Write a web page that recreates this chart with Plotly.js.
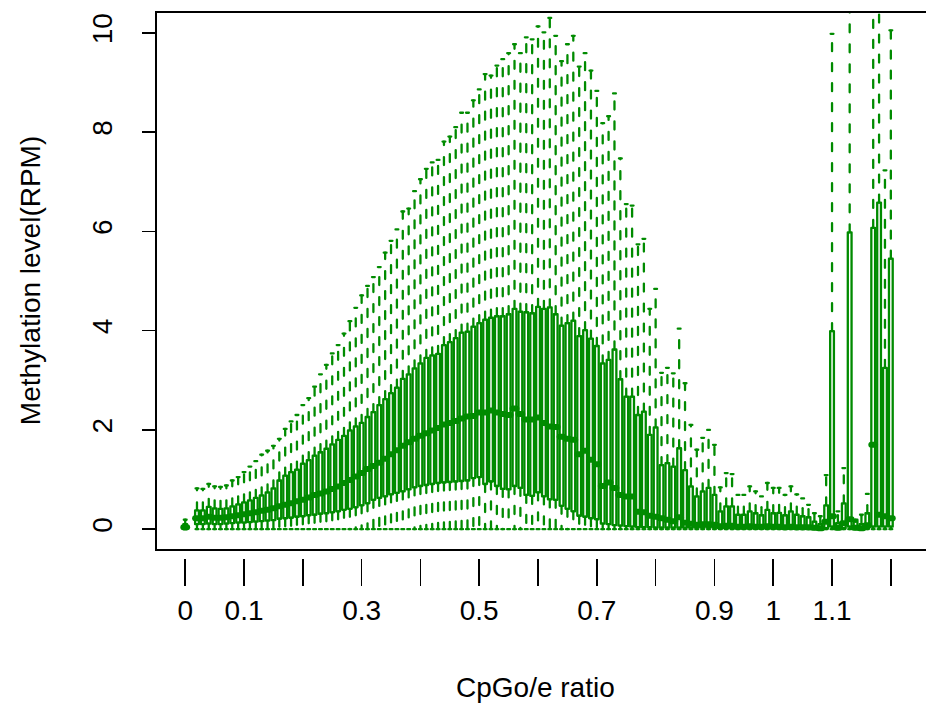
<!DOCTYPE html>
<html><head><meta charset="utf-8">
<script src="https://cdn.plot.ly/plotly-3.0.1.min.js"></script>
<style>
html,body{margin:0;padding:0;background:#fff;overflow:hidden;width:926px;height:705px}
#chart{width:940px;height:705px}
</style></head><body><div id="chart"></div>
<script>
// CpG o/e ratio groups (box positions)
const ratio = [0.00,
  0.02,0.03,0.04,0.05,0.06,0.07,0.08,0.09,0.10,
  0.11,0.12,0.13,0.14,0.15,0.16,0.17,0.18,0.19,0.20,
  0.21,0.22,0.23,0.24,0.25,0.26,0.27,0.28,0.29,0.30,
  0.31,0.32,0.33,0.34,0.35,0.36,0.37,0.38,0.39,0.40,
  0.41,0.42,0.43,0.44,0.45,0.46,0.47,0.48,0.49,0.50,
  0.51,0.52,0.53,0.54,0.55,0.56,0.57,0.58,0.59,0.60,
  0.61,0.62,0.63,0.64,0.65,0.66,0.67,0.68,0.69,0.70,
  0.71,0.72,0.73,0.74,0.75,0.76,0.77,0.78,0.79,0.80,
  0.81,0.82,0.83,0.84,0.85,0.86,0.87,0.88,0.89,0.90,
  0.91,0.92,0.93,0.94,0.95,0.96,0.97,0.98,0.99,1.00,
  1.01,1.02,1.03,1.04,1.05,1.06,1.07,1.08,1.09,1.10,
  1.11,1.12,1.13,1.14,1.15,1.16,1.17,1.18,1.19,1.20];

// upper whisker ends
const upperWhisker = [0.19,
  0.82,0.81,0.91,0.86,0.85,0.88,0.98,1.05,1.15,
  1.26,1.37,1.50,1.58,1.68,1.82,2.02,2.17,2.30,2.50,
  2.64,2.87,3.12,3.31,3.54,3.71,3.94,4.19,4.46,4.71,
  4.90,5.08,5.28,5.57,5.81,6.04,6.40,6.46,6.81,7.05,
  7.26,7.39,7.44,7.81,7.91,8.10,8.39,8.39,8.64,8.86,
  9.17,9.14,9.34,9.47,9.59,9.77,9.59,9.91,9.87,10.13,
  10.01,10.30,9.94,9.43,9.77,9.94,9.32,9.59,9.24,8.83,
  8.18,8.32,8.78,7.47,6.55,6.52,5.74,5.85,4.44,4.84,
  3.15,3.25,3.14,4.04,2.94,2.10,1.60,1.84,2.00,1.70,
  0.84,1.13,1.11,0.69,0.69,0.86,0.76,0.66,0.93,0.83,
  0.83,0.69,0.86,0.70,0.62,0.49,0.32,0.26,1.09,9.98,
  0.36,1.23,11.5,0.15,0.29,0.71,11.0,10.9,7.23,10.05];

// third quartile
const q3 = [0.10,
  0.38,0.38,0.45,0.42,0.41,0.42,0.46,0.50,0.54,
  0.58,0.63,0.68,0.74,0.82,0.98,1.08,1.15,1.20,1.32,
  1.39,1.48,1.55,1.62,1.71,1.80,1.88,1.99,2.07,2.14,
  2.26,2.36,2.50,2.62,2.74,2.85,3.03,3.12,3.24,3.34,
  3.45,3.50,3.53,3.71,3.77,3.85,3.96,3.98,4.08,4.15,
  4.22,4.26,4.29,4.29,4.33,4.44,4.38,4.37,4.35,4.48,
  4.44,4.47,4.33,4.10,4.15,4.20,3.89,4.01,3.84,3.69,
  3.34,3.41,3.62,3.02,2.67,2.67,2.30,2.37,1.90,2.05,
  1.29,1.33,1.26,1.63,1.19,0.86,0.66,0.76,0.83,0.69,
  0.36,0.46,0.46,0.29,0.29,0.36,0.32,0.28,0.39,0.32,
  0.33,0.28,0.36,0.29,0.26,0.24,0.15,0.10,0.48,3.99,
  0.12,0.52,5.98,0.19,0.10,0.32,6.07,6.58,3.25,5.45];

// medians
const median = [0.04,
  0.22,0.22,0.25,0.23,0.23,0.24,0.26,0.28,0.30,
  0.32,0.34,0.37,0.39,0.42,0.46,0.49,0.52,0.56,0.59,
  0.64,0.69,0.72,0.76,0.81,0.86,0.93,0.99,1.06,1.13,
  1.21,1.27,1.34,1.42,1.51,1.59,1.68,1.75,1.82,1.88,
  1.93,1.99,2.04,2.11,2.14,2.18,2.23,2.27,2.28,2.35,
  2.35,2.39,2.35,2.32,2.30,2.43,2.32,2.21,2.21,2.25,
  2.14,2.07,2.06,1.86,1.82,1.80,1.51,1.58,1.40,1.31,
  0.87,0.94,0.83,0.69,0.66,0.66,0.35,0.34,0.27,0.25,
  0.22,0.19,0.16,0.24,0.13,0.11,0.09,0.10,0.10,0.09,
  0.06,0.07,0.07,0.05,0.05,0.06,0.05,0.05,0.06,0.05,
  0.05,0.04,0.05,0.04,0.04,0.04,0.03,0.02,0.15,0.26,
  0.03,0.12,0.20,0.03,0.02,0.08,1.70,0.29,0.26,0.22];

// first quartile
const q1 = [0.00,
  0.10,0.10,0.11,0.10,0.10,0.11,0.12,0.13,0.13,
  0.14,0.15,0.16,0.17,0.18,0.21,0.22,0.23,0.25,0.26,
  0.28,0.29,0.31,0.32,0.34,0.36,0.39,0.41,0.44,0.48,
  0.52,0.59,0.63,0.66,0.70,0.73,0.76,0.80,0.84,0.87,
  0.89,0.91,0.93,0.94,0.95,0.96,0.97,0.98,1.03,1.05,
  0.91,0.96,0.87,0.81,0.80,0.87,0.83,0.69,0.67,0.74,
  0.66,0.60,0.59,0.47,0.41,0.36,0.27,0.25,0.22,0.20,
  0.11,0.10,0.08,0.07,0.06,0.05,0.04,0.04,0.04,0.03,
  0.03,0.03,0.03,0.03,0.03,0.03,0.03,0.03,0.03,0.03,
  0.02,0.02,0.02,0.02,0.02,0.02,0.02,0.02,0.02,0.02,
  0.02,0.02,0.02,0.02,0.02,0.02,0.02,0.02,0.02,0.05,
  0.02,0.02,0.05,0.02,0.02,0.02,0.05,0.05,0.05,0.05];

// lower whisker ends
const lowerWhisker = [0,
  0,0,0,0,0,0,0,0,0,
  0,0,0,0,0,0,0,0,0,0,
  0,0,0,0,0,0,0,0,0,0,
  0,0,0,0,0,0,0,0,0,0,
  0,0,0,0,0,0,0,0,0,0,
  0,0,0,0,0,0,0,0,0,0,
  0,0,0,0,0,0,0,0,0,0,
  0,0,0,0,0,0,0,0,0,0,
  0,0,0,0,0,0,0,0,0,0,
  0,0,0,0,0,0,0,0,0,0,
  0,0,0,0,0,0,0,0,0,0,
  0,0,0,0,0,0,0,0,0,0];

const xTickVals = [0,0.1,0.2,0.3,0.4,0.5,0.6,0.7,0.8,0.9,1.0,1.1,1.2];
const xTickText = ["0","0.1","","0.3","","0.5","","0.7","","0.9","1","1.1",""];
const yTickVals = [0,2,4,6,8,10];
const yTickText = ["0","2","4","6","8","10"];

const GREEN = '#008B00';
const FONT = 'Liberation Sans, Arial, Helvetica, sans-serif';
const HW = 0.0032;   // half box width (data units)
const CW = 0.0024;   // half staple width

const bx=[],by=[],mx=[],my=[],wx=[],wy=[],cx=[],cy=[];
for (let i=0;i<ratio.length;i++){
  const p=ratio[i];
  bx.push(p-HW,p+HW,p+HW,p-HW,p-HW,null);
  by.push(q1[i],q1[i],q3[i],q3[i],q1[i],null);
  mx.push(p-HW,p+HW,null); my.push(median[i],median[i],null);
  wx.push(p,p,null,p,p,null);
  wy.push(q3[i],upperWhisker[i],null,q1[i],lowerWhisker[i],null);
  cx.push(p-CW,p+CW,null,p-CW,p+CW,null);
  cy.push(upperWhisker[i],upperWhisker[i],null,lowerWhisker[i],lowerWhisker[i],null);
}
const common = {type:'scatter',mode:'lines',hoverinfo:'skip',showlegend:false,connectgaps:false};
const traces = [
  Object.assign({},common,{x:wx,y:wy,line:{color:GREEN,width:2.3,dash:'8px,12px'}}),
  Object.assign({},common,{x:cx,y:cy,line:{color:GREEN,width:2.3}}),
  Object.assign({},common,{x:bx,y:by,line:{color:GREEN,width:2.3}}),
  Object.assign({},common,{x:mx,y:my,xaxis:'x2',line:{color:GREEN,width:6}})
];

const XR=[-0.048,1.2768];
const layout = {
  width:940,height:705,
  margin:{l:157,r:4,t:13,b:147,pad:0},
  paper_bgcolor:'#ffffff',plot_bgcolor:'#ffffff',
  showlegend:false,
  xaxis:{range:XR,showline:true,mirror:true,linecolor:'#000',linewidth:1.8,
         showgrid:false,zeroline:false,showticklabels:false,ticks:'',fixedrange:true},
  xaxis2:{overlaying:'x',anchor:'free',position:0,range:XR,
          tickmode:'array',tickvals:xTickVals,ticktext:xTickText,
          ticks:'outside',ticklen:27,tickwidth:1.6,tickcolor:'#000',
          showline:false,showgrid:false,zeroline:false,
          tickfont:{family:FONT,size:28,color:'#000'}},
  yaxis:{domain:[0.0165,1],range:[-0.4,10.4],
         tickmode:'array',tickvals:yTickVals,ticktext:yTickText,
         ticks:'outside',ticklen:13,tickwidth:1.6,tickcolor:'#000',tickangle:-90,
         ticklabelstandoff:19,
         showline:true,mirror:true,linecolor:'#000',linewidth:1.8,
         showgrid:false,zeroline:false,
         tickfont:{family:FONT,size:28,color:'#000'}},
  annotations:[
    {text:'CpGo/e ratio',xref:'paper',yref:'paper',x:0.4865,y:-0.2385,
     xanchor:'center',yanchor:'middle',showarrow:false,font:{family:FONT,size:28,color:'#000'}},
    {text:'Methylation level(RPM)',xref:'paper',yref:'paper',x:-0.163,y:0.508,
     xanchor:'center',yanchor:'middle',textangle:-90,showarrow:false,font:{family:FONT,size:28,color:'#000'}}
  ]
};
Plotly.newPlot('chart',traces,layout,{displayModeBar:false,staticPlot:true}).then(function(){
  document.querySelectorAll('.scatterlayer path.js-line').forEach(function(e){
    e.style.strokeLinecap='round'; e.style.strokeLinejoin='round';
  });
});
</script></body></html>
